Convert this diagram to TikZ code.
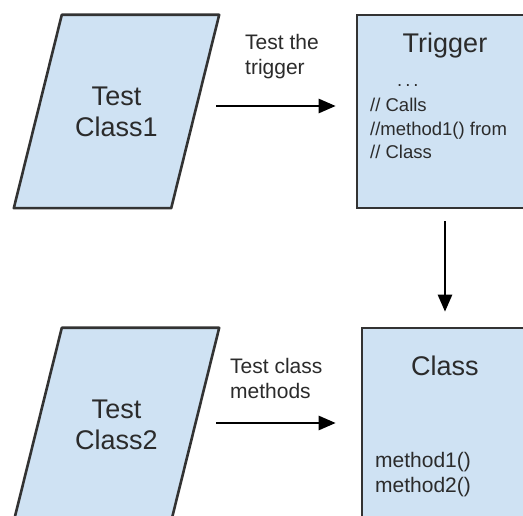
\documentclass[tikz,border=0pt]{standalone}
\usepackage{fontspec}
\setmainfont{Liberation Sans}
\usetikzlibrary{arrows.meta,calc}
\definecolor{boxfill}{HTML}{CFE2F3}
\definecolor{boxline}{HTML}{333333}
\definecolor{txt}{HTML}{2B2B2B}
\tikzset{
  paranode/.style={rectangle, minimum width=205pt, minimum height=193pt,
    inner sep=0pt, align=center, text=txt, font=\fontsize{27}{31}\selectfont},
  paraline/.style={fill=boxfill, draw=boxline, line width=2.6pt, line join=round},
  codebox/.style={rectangle, fill=boxfill, draw=boxline, line width=2.6pt, inner sep=0pt},
  big/.style={text=txt, inner sep=0pt, font=\fontsize{27}{31}\selectfont},
  lbl/.style={text=txt, inner sep=0pt, align=left, font=\fontsize{21}{25}\selectfont},
  code/.style={text=txt, inner sep=0pt, align=left, font=\fontsize{18.5}{23.5}\selectfont},
  arr/.style={draw=black, line width=2.6pt, -{Triangle[length=17pt,width=14pt]}}
}
\newcommand{\drawpara}[1]{%
  \draw[paraline] ($(#1.north west)+(48pt,0)$) -- (#1.north east)
    -- ($(#1.south east)+(-48pt,0)$) -- (#1.south west) -- cycle;}
\begin{document}
\begin{tikzpicture}[x=1pt,y=-1pt]
\clip (0,0) rectangle (523,516);
\fill[white] (0,0) rectangle (523,516);
% shapes
\path (116.5,111.5) node[paranode] (tc1) {};
\path (116.5,424.5) node[paranode] (tc2) {};
\drawpara{tc1}
\drawpara{tc2}
\node[paranode] at (tc1.center) {Test\\Class1};
\node[paranode] at (tc2.center) {Test\\Class2};
\node[codebox, minimum width=176pt, minimum height=193pt] (trig) at (445,111.5) {};
\node[codebox, minimum width=166pt, minimum height=202pt] (cls) at (445,429) {};
% texts in boxes
\node[big, anchor=base] (trigt) at (445,53) {Trigger};
\node[code, anchor=base west] (dots) at (397,87) {.\kern3pt.\kern3pt.};
\node[code, anchor=west] (trigc) at (370,128.7) {// Calls\\//method1() from\\// Class};
\node[big, anchor=base] (clst) at (445,375) {Class};
\node[lbl, anchor=west] (clsm) at (375,475) {method1()\\method2()};
% labels
\node[lbl, anchor=west] (l1) at (245,57) {Test the\\trigger};
\node[lbl, anchor=west] (l2) at (230,378) {Test class\\methods};
% connectors
\coordinate (a1) at ([yshift=5.5pt]tc1.east);
\coordinate (a2) at ([yshift=1.5pt]tc2.east);
\draw[arr, shorten <=-3pt, shorten >=20pt] (a1) -- (a1 -| trig.west);
\draw[arr, shorten <=-3pt, shorten >=25pt] (a2) -- (a2 -| cls.west);
\draw[arr, shorten <=12pt, shorten >=15pt] (trig.south) -- (cls.north);
\end{tikzpicture}
\end{document}
